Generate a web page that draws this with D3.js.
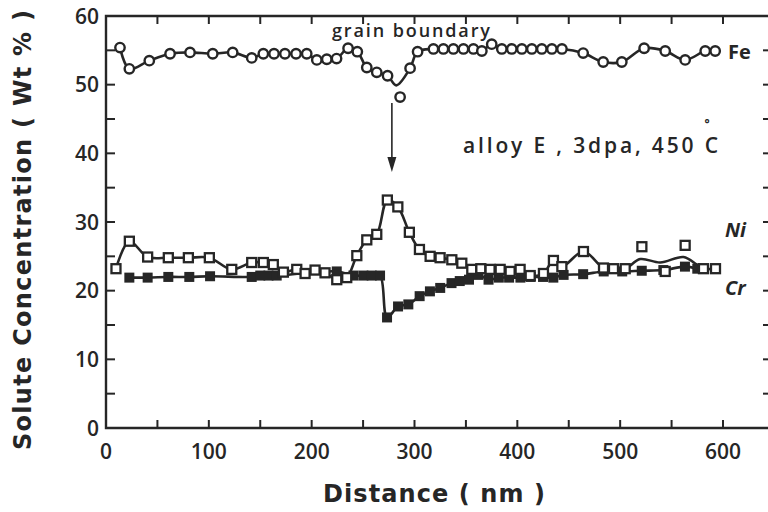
<!DOCTYPE html>
<html>
<head>
<meta charset="utf-8">
<script src="https://cdn.jsdelivr.net/npm/d3@7"></script>
<style>
  body { margin: 0; background: #fff; }
  text { font-family: "Open Sans", "DejaVu Sans", sans-serif; fill: #262626; }
  .title { font-family: "DejaVu Sans", sans-serif; font-weight: bold; }
</style>
</head>
<body>
<div id="chart"></div>
<script>
// distance (nm), concentration (wt %)
const fe = [
  [13.6, 55.4], [22.7, 52.3], [42.1, 53.5], [62.3, 54.5], [81.7, 54.7], [103.8, 54.5],
  [123.2, 54.7], [141.7, 53.9], [153, 54.5], [163.4, 54.5], [174, 54.5], [184.8, 54.5],
  [195.2, 54.5], [205, 53.6], [214.7, 53.7], [224.2, 53.8], [235.4, 55.3], [244.4, 54.8],
  [253.6, 52.5], [263.3, 51.8], [273.8, 51.3], [286, 48.2], [295.7, 52.4], [303, 54.8],
  [318.4, 55.2], [328.1, 55.2], [337.8, 55.2], [347.6, 55.2], [357.3, 55.2], [365.5, 54.9],
  [375.1, 55.9], [384.9, 55.2], [394.6, 55.2], [404.4, 55.2], [414.1, 55.2], [423.8, 55.2],
  [433.6, 55.2], [443.4, 55.2], [464, 54.6], [483.5, 53.3], [501.6, 53.3], [523.3, 55.3],
  [543.8, 54.9], [563.2, 53.6], [582.7, 54.9], [592.4, 54.9]
];
const feOutlier = 286;      // circle below the drawn line at the boundary
const feDip = [282.3, 49.9]; // bottom of the drawn V

const ni = [
  [9.7, 23.2], [22.7, 27.2], [40.5, 24.9], [60.6, 24.8], [80.1, 24.8], [100.5, 24.8],
  [122.3, 23.1], [141.7, 24.1], [153, 24.1], [162.7, 23.8], [172.5, 22.7], [185.5, 23.1],
  [193.6, 22.5], [203.3, 23], [213, 22.6], [224.4, 21.6], [234.1, 21.9], [243.9, 25.1],
  [253.6, 27.4], [263.3, 28.2], [273.6, 33.2], [283.8, 32.2], [295, 28.5], [304.8, 26],
  [315.2, 25], [324.9, 24.8], [336.3, 24.5], [346, 24], [355.7, 23.1], [364.5, 23.2],
  [373.5, 23.1], [383.3, 23.1], [393, 22.8], [402.7, 23.1], [412.5, 22.2], [425.4, 22.5],
  [435.1, 24.4], [443.3, 23.5], [464.3, 25.7], [483.8, 23.3], [493.5, 23.2], [504.9, 23.2],
  [521.1, 26.4], [543.8, 22.8], [563.2, 26.6], [581, 23.2], [592.7, 23.2]
];
// hand-drawn Ni curve over the last points
const niBend = [[519.5, 24.6], [538.9, 24.1], [561.6, 24.9], [574.6, 23.8]];

const cr = [
  [22.7, 21.9], [40.5, 21.9], [60.6, 22], [81, 22], [101.2, 22.1], [141.7, 22],
  [150, 22.2], [158, 22.2], [166, 22.2], [224.4, 22.8], [240.6, 22.2], [250.3, 22.2],
  [258.4, 22.2], [266.5, 22.2], [273.3, 16.1], [284, 17.7], [294, 18], [305, 19.2],
  [315, 19.9], [325, 20.4], [336, 21.1], [344, 21.4], [353, 21.6], [362, 22.3],
  [372, 21.6], [382, 21.9], [392, 21.9], [403, 21.9], [413, 22], [425, 22],
  [435, 21.9], [445, 22.3], [464, 22.4], [484, 22.8], [502, 22.8], [521, 22.9],
  [542, 23], [563, 23.5], [575, 23.2]
];

const xTicks = [0, 100, 200, 300, 400, 500, 600];
const yTicks = [0, 10, 20, 30, 40, 50, 60];
const arrowAt = 278;

const width = 768, height = 512;
const ink = '#262626';

const svg = d3.select('#chart').append('svg')
  .attr('width', width).attr('height', height);

const x = d3.scaleLinear().domain([0, 600]).range([106, 723]);
const y = d3.scaleLinear().domain([0, 60]).range([428, 16]);
const right = 770;

// frame
svg.append('path')
  .attr('d', `M${right},${y(60)}H${x(0)}V${y(0)}H${right}`)
  .attr('fill', 'none').attr('stroke', ink).attr('stroke-width', 2.4);

// minor ticks every 50 nm / 5 %
const xt = d3.range(50, 601, 50);
const yt = d3.range(5, 56, 5);
const ticks = svg.append('g').attr('stroke', ink).attr('stroke-width', 2);
ticks.selectAll('.xb').data(xt).enter().append('line')
  .attr('x1', d => x(d)).attr('x2', d => x(d)).attr('y1', y(0)).attr('y2', y(0) - 8);
ticks.selectAll('.xt').data(xt).enter().append('line')
  .attr('x1', d => x(d)).attr('x2', d => x(d)).attr('y1', y(60)).attr('y2', y(60) + 8);
ticks.selectAll('.yl').data(yt).enter().append('line')
  .attr('x1', x(0)).attr('x2', x(0) + 9).attr('y1', d => y(d)).attr('y2', d => y(d));
ticks.selectAll('.yr').data(yt).enter().append('line')
  .attr('x1', right).attr('x2', right - 7).attr('y1', d => y(d)).attr('y2', d => y(d));

// tick labels
svg.selectAll('.xl').data(xTicks).enter().append('text')
  .attr('x', d => x(d)).attr('y', 459)
  .attr('text-anchor', 'middle').attr('font-size', 21).attr('font-weight', 600).text(d => d);
svg.selectAll('.ylab').data(yTicks).enter().append('text')
  .attr('x', 99).attr('y', d => y(d)).attr('dy', '0.36em')
  .attr('text-anchor', 'end').attr('font-size', 21).attr('font-weight', 600).text(d => d);

// axis titles
svg.append('text').attr('class', 'title')
  .attr('x', 434).attr('y', 502).attr('text-anchor', 'middle')
  .attr('font-size', 24).attr('textLength', 222).attr('lengthAdjust', 'spacing')
  .text('Distance ( nm )');
svg.append('text').attr('class', 'title')
  .attr('transform', 'translate(31,230) rotate(-90)').attr('text-anchor', 'middle')
  .attr('font-size', 24).attr('textLength', 440).attr('lengthAdjust', 'spacing')
  .text('Solute  Concentration ( Wt % )');

// lines
const line = d3.line().x(d => x(d[0])).y(d => y(d[1])).curve(d3.curveCatmullRom.alpha(0.5));
const feLine = fe.filter(d => d[0] !== feOutlier).concat([feDip]).sort((a, b) => a[0] - b[0]);
const niLine = ni.filter(d => d[0] < 505 || d[0] > 578).concat(niBend).sort((a, b) => a[0] - b[0]);

[feLine, niLine, cr].forEach(data => {
  svg.append('path').datum(data)
    .attr('fill', 'none').attr('stroke', ink).attr('stroke-width', 2.6)
    .attr('d', line);
});

// markers
svg.selectAll('.cr').data(cr).enter().append('rect')
  .attr('x', d => x(d[0]) - 5).attr('y', d => y(d[1]) - 5)
  .attr('width', 10).attr('height', 10).attr('fill', ink);
svg.selectAll('.ni').data(ni).enter().append('rect')
  .attr('x', d => x(d[0]) - 4.5).attr('y', d => y(d[1]) - 4.5)
  .attr('width', 9).attr('height', 9)
  .attr('fill', '#fff').attr('stroke', ink).attr('stroke-width', 2.3);
svg.selectAll('.fe').data(fe).enter().append('circle')
  .attr('cx', d => x(d[0])).attr('cy', d => y(d[1])).attr('r', 4.7)
  .attr('fill', '#fff').attr('stroke', ink).attr('stroke-width', 2.4);

// annotations
svg.append('text').attr('x', 411).attr('y', 37).attr('text-anchor', 'middle')
  .attr('font-size', 18).attr('font-weight', 600).attr('textLength', 158).attr('lengthAdjust', 'spacing')
  .text('grain boundary');
svg.append('line')
  .attr('x1', x(arrowAt)).attr('x2', x(arrowAt)).attr('y1', 103).attr('y2', 160)
  .attr('stroke', ink).attr('stroke-width', 1.6);
svg.append('path')
  .attr('d', `M${x(arrowAt) - 4.5},157L${x(arrowAt) + 4.5},157L${x(arrowAt)},172Z`)
  .attr('fill', ink);

svg.append('text').attr('x', 463).attr('y', 153)
  .attr('font-size', 21).attr('font-weight', 600).attr('textLength', 255).attr('lengthAdjust', 'spacing')
  .text('alloy E , 3dpa, 450 C');
svg.append('text').attr('x', 707).attr('y', 128).attr('text-anchor', 'middle')
  .attr('font-size', 12).attr('font-weight', 700).text('°');

svg.append('text').attr('x', 728).attr('y', 59).attr('font-size', 20).attr('font-weight', 700).text('Fe');
svg.append('text').attr('x', 725).attr('y', 237).attr('font-size', 20).attr('font-weight', 700).attr('font-style', 'italic').text('Ni');
svg.append('text').attr('x', 725).attr('y', 295).attr('font-size', 20).attr('font-weight', 700).attr('font-style', 'italic').text('Cr');
</script>
</body>
</html>
